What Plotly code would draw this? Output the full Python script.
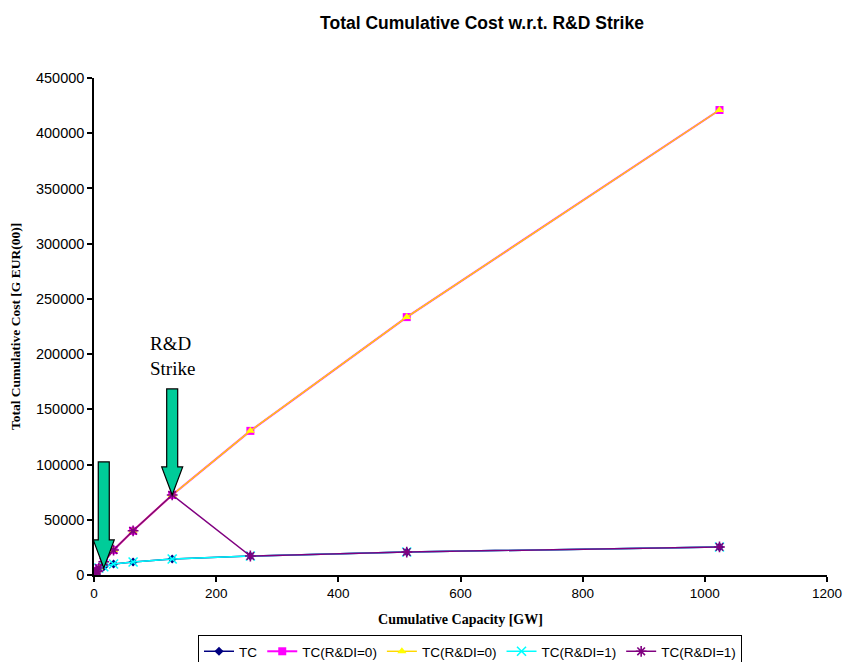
import plotly.graph_objects as go

# Cumulative installed capacity (GW), doubling steps
capacity = [1, 2, 4, 8, 16, 32, 64, 128, 256, 512, 1024]

# Total cumulative cost per scenario [G EUR(00)]
tc = [900, 1700, 3300, 6300, 7500, 10000, 11800, 14500, 17200, 20800, 25400]
tc_rdi0_a = [900, 1700, 3300, 6300, 12000, 22600, 40000, 72500, 130500, 233500, 421000]
tc_rdi0_b = [900, 1700, 3300, 6300, 12000, 22600, 40000, 72500, 130500, 233500, 421000]
tc_rdi1_a = [900, 1700, 3300, 6300, 7500, 10000, 11800, 14500, 17200, 20800, 25400]
tc_rdi1_b = [900, 1700, 3300, 6300, 12000, 22600, 40000, 72500, 17200, 20800, 25400]

# R&D strike points marked with arrows: (capacity, cost)
strike_capacity = [16, 128]
strike_cost = [6400, 72500]

series = [
    ("TC", tc, "#000080", "diamond", 7, 0, 1.5),
    ("TC(R&DI=0)", tc_rdi0_a, "#FF00FF", "square", 8, 0, 2.0),
    ("TC(R&DI=0)", tc_rdi0_b, "#FFD800", "triangle-up", 8, 0, 1.4),
    ("TC(R&DI=1)", tc_rdi1_a, "#00FFFF", "x-thin-open", 9, 1.6, 1.5),
    ("TC(R&DI=1)", tc_rdi1_b, "#800080", "asterisk-open", 9, 1.6, 1.5),
]

fig = go.Figure()
for name, vals, color, symbol, size, mlw, lw in series:
    mcolor = "#FFFF00" if symbol == "triangle-up" else color
    marker = dict(symbol=symbol, size=size, color=mcolor)
    marker["line"] = dict(color=mcolor, width=mlw)
    fig.add_trace(go.Scatter(
        x=capacity, y=vals, name=name, mode="lines+markers",
        line=dict(color=color, width=lw), marker=marker,
    ))

# Plot-area geometry used to size the block arrows in pixels
L, R, T, B = 94, 18, 78, 87
W, H = 845, 662
x_range = [0, 1200]
y_range = [0, 450000]
gw_per_px = (x_range[1] - x_range[0]) / (W - L - R)
cost_per_px = (y_range[1] - y_range[0]) / (H - T - B)

shaft_hw, head_hw, head_h, total_h = 5.5, 10.5, 28, 106
for cx, cy in zip(strike_capacity, strike_cost):
    pts = [
        (0, 0), (-head_hw, head_h), (-shaft_hw, head_h), (-shaft_hw, total_h),
        (shaft_hw, total_h), (shaft_hw, head_h), (head_hw, head_h),
    ]
    path = "M " + " L ".join(
        f"{cx + dx * gw_per_px:.4f},{cy + dy * cost_per_px:.2f}" for dx, dy in pts
    ) + " Z"
    fig.add_shape(type="path", path=path, xref="x", yref="y",
                  fillcolor="#00CC99", line=dict(color="black", width=1.2),
                  layer="above")

fig.add_annotation(
    x=strike_capacity[1], y=strike_cost[1] + (total_h + 8) * cost_per_px,
    xref="x", yref="y", text="R&D<br>Strike", showarrow=False,
    xanchor="center", yanchor="bottom", align="left",
    font=dict(family="Liberation Serif, Times New Roman, serif", size=19, color="black"),
)

fig.update_layout(
    width=W, height=H,
    margin=dict(l=L, r=R, t=T, b=B, autoexpand=False),
    paper_bgcolor="white", plot_bgcolor="white",
    title=dict(
        text="<b>Total Cumulative Cost w.r.t. R&D Strike</b>",
        x=482 / W, xanchor="center", y=1 - 23 / H, yanchor="middle",
        font=dict(family="Liberation Sans, Arial, sans-serif", size=17.5, color="black"),
    ),
    showlegend=True,
    legend=dict(
        orientation="h", x=(470 - L) / (W - L - R), xanchor="center",
        y=-60 / (H - T - B), yanchor="top",
        bordercolor="black", borderwidth=1, bgcolor="white",
        font=dict(family="Liberation Sans, Arial, sans-serif", size=13.5, color="black"),
        itemwidth=30, tracegroupgap=0,
    ),
    font=dict(family="Liberation Sans, Arial, sans-serif", color="black"),
)

fig.update_xaxes(
    range=x_range, dtick=200, showgrid=False, zeroline=False,
    showline=True, linecolor="black", linewidth=1.5,
    ticks="outside", ticklen=5, tickcolor="black", tickwidth=1.5,
    tickfont=dict(family="Liberation Sans, Arial, sans-serif", size=13.5, color="black"),
    title=dict(text="<b>Cumulative Capacity [GW]</b>", standoff=14,
               font=dict(family="Liberation Serif, Times New Roman, serif", size=14, color="black")),
)
fig.update_yaxes(
    range=y_range, dtick=50000, showgrid=False, zeroline=False,
    showline=True, linecolor="black", linewidth=1.5,
    ticks="outside", ticklen=5, tickcolor="black", tickwidth=1.5,
    tickformat="d",
    tickfont=dict(family="Liberation Sans, Arial, sans-serif", size=14.5, color="black"),
    title=dict(text="<b>Total Cumulative Cost [G EUR(00)]</b>", standoff=12,
               font=dict(family="Liberation Serif, Times New Roman, serif", size=13.5, color="black")),
)

fig.write_html("out.html")
